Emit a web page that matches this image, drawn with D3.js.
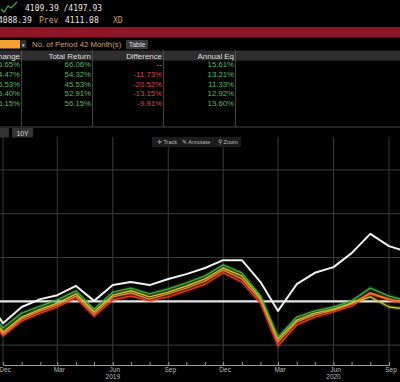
<!DOCTYPE html>
<html><head><meta charset="utf-8">
<script src="https://cdn.jsdelivr.net/npm/d3@7"></script>
<style>
body{margin:0;background:#000;}
svg{display:block;}
</style></head><body>
<svg id="chart" width="400" height="382"></svg>
<script>
// monthly points, index (white) and the four compared lines
const months = ["2018-11","2018-12","2019-01","2019-02","2019-03","2019-04","2019-05","2019-06",
  "2019-07","2019-08","2019-09","2019-10","2019-11","2019-12","2020-01","2020-02","2020-03",
  "2020-04","2020-05","2020-06","2020-07","2020-08","2020-09","2020-10"];
const indexVals  = [1.4,-5.0,-1.3,0.5,1.4,3.5,0.1,3.7,4.4,3.7,5.1,6.2,7.6,9.4,9.4,4.4,-2.2,3.9,6.5,7.8,11.0,15.4,12.6,11.3];
const greenVals  = [-0.6,-6.1,-2.7,-1.1,0.3,2.4,-1.8,2.1,3.0,1.7,2.8,4.2,5.8,8.3,6.5,1.2,-8.2,-3.6,-2.2,-1.3,0.1,3.0,1.2,0.1];
const yellowVals = [-1.3,-7.0,-3.6,-1.8,-0.4,1.7,-2.4,1.4,2.4,1.0,2.1,3.5,5.1,7.6,5.8,0.8,-8.6,-4.3,-2.7,-1.8,-0.4,1.0,-1.3,-1.8];
const orangeVals = [-1.8,-7.5,-4.0,-2.2,-0.8,1.2,-2.9,1.0,1.9,0.5,1.7,3.0,4.6,7.1,5.1,0.3,-9.3,-4.7,-3.1,-2.0,-0.6,1.9,0.5,-0.4];
const redVals    = [-2.2,-7.9,-4.5,-2.7,-1.3,0.8,-3.4,0.3,1.2,0.1,1.0,2.4,3.9,6.5,4.4,-0.4,-10.2,-5.4,-3.6,-2.4,-1.1,1.7,0.3,-0.6];

const quarterTicks = ["2018-12","2019-03","2019-06","2019-09","2019-12","2020-03","2020-06","2020-09"];
const yearLabels = [["2019-06","2019"],["2020-06","2020"]];
const gridVals = [-10, 0, 10, 20, 30];

const tableHeads = ["Change","Total Return","Difference","Annual Eq"];
const changeCol = ["65.65%","44.47%","45.53%","45.40%","56.15%"];
const totalCol  = ["66.06%","54.32%","45.53%","52.91%","56.15%"];
const diffCol   = ["--","-11.73%","-20.52%","-13.15%","-9.91%"];
const annualCol = ["15.61%","13.21%","11.33%","12.92%","13.60%"];

const parse = d3.timeParse("%Y-%m");
const svg = d3.select("#chart");
const sans = "Liberation Sans, Arial, sans-serif";
const mono = "DejaVu Sans Mono, monospace";

// ---- header ----
svg.append("path").attr("d","M1,9 L4,12 L8,6 L11,8 L17,2")
  .attr("fill","none").attr("stroke","#3fae49").attr("stroke-width",1.2);
svg.append("text").attr("x",25).attr("y",11).text("4109.39 /4197.93")
  .attr("fill","#e6e6e6").attr("font-family",mono).attr("font-size",8);
const row2 = [["4088.39",-2,"#e6e6e6"],["Prev",39,"#d2a46c"],["4111.08",65,"#e6e6e6"],["XD",113,"#d2a46c"]];
svg.selectAll(".r2").data(row2).join("text")
  .attr("x",d=>d[1]).attr("y",23).text(d=>d[0]).attr("fill",d=>d[2])
  .attr("font-family",mono).attr("font-size",8);

svg.append("rect").attr("x",0).attr("y",27).attr("width",400).attr("height",10.5).attr("fill","#8e1626");

svg.append("rect").attr("x",0).attr("y",40).attr("width",20).attr("height",8.5).attr("fill","#f4a233");
svg.append("rect").attr("x",20.5).attr("y",40).attr("width",6).attr("height",8.5).attr("fill","#333");
svg.append("text").attr("x",23.5).attr("y",46.5).attr("text-anchor","middle").text("▾")
  .attr("fill","#ddd").attr("font-family",sans).attr("font-size",5);
svg.append("text").attr("x",32).attr("y",47.3).text("No. of Period 42 Month(s)")
  .attr("fill","#d2a46c").attr("font-family",sans).attr("font-size",7.8);
svg.append("rect").attr("x",126).attr("y",40).attr("width",22).attr("height",9).attr("fill","#3a3a3a");
svg.append("text").attr("x",137).attr("y",47.3).attr("text-anchor","middle").text("Table")
  .attr("fill","#ddd").attr("font-family",sans).attr("font-size",7);

// ---- table ----
const colEnds = [20, 91, 162, 234];
svg.append("rect").attr("x",0).attr("y",50.5).attr("width",400).attr("height",10).attr("fill","#2e2e2e");
svg.selectAll(".th").data(tableHeads).join("text")
  .attr("x",(d,i)=>colEnds[i]).attr("y",58.7).attr("text-anchor","end").text(d=>d)
  .attr("fill","#dedede").attr("font-family",sans).attr("font-size",7.9);
svg.selectAll(".div").data(colEnds).join("line")
  .attr("x1",d=>d+1.5).attr("x2",d=>d+1.5).attr("y1",50.5).attr("y2",127)
  .attr("stroke","#555").attr("stroke-width",0.8);
const cols = [changeCol, totalCol, diffCol, annualCol];
cols.forEach((col, ci) => {
  svg.selectAll(".c"+ci).data(col).join("text")
    .attr("x",colEnds[ci]).attr("y",(d,i)=>67.2 + i*9.7).attr("text-anchor","end").text(d=>d)
    .attr("fill",d=> ci===2 ? (d==="--" ? "#aaa" : "#d84a4a") : "#58b862")
    .attr("font-family",sans).attr("font-size",7.8);
});
svg.append("line").attr("x1",0).attr("x2",400).attr("y1",127).attr("y2",127)
  .attr("stroke","#555").attr("stroke-width",0.8);
svg.append("rect").attr("x",0).attr("y",128).attr("width",9).attr("height",9.5).attr("fill","#333");
svg.append("rect").attr("x",12).attr("y",128).attr("width",21).attr("height",9.5).attr("fill","#333");
svg.append("text").attr("x",22.5).attr("y",135.5).attr("text-anchor","middle").text("10Y")
  .attr("fill","#ddd").attr("font-family",sans).attr("font-size",6.8);

// ---- chart ----
const x = d3.scaleTime().domain([parse("2018-12"), parse("2020-09")]).range([3, 389]);
const y = d3.scaleLinear().domain([-10, 30]).range([345.1, 169.9]);
const plotTop = 137, axisY = 365;

const grid = svg.append("g");
grid.selectAll(".hg").data(gridVals).join("line")
  .attr("x1",0).attr("x2",400).attr("y1",d=>y(d)).attr("y2",d=>y(d))
  .attr("stroke","#3a3a3a").attr("stroke-width",1);
grid.selectAll(".vg").data(quarterTicks).join("line")
  .attr("x1",d=>x(parse(d))).attr("x2",d=>x(parse(d))).attr("y1",plotTop).attr("y2",axisY)
  .attr("stroke","#3a3a3a").attr("stroke-width",1);

// toolbar
const tb = svg.append("g").attr("font-family",sans).attr("font-size",5.5).attr("fill","#bbb");
tb.append("rect").attr("x",152).attr("y",137).attr("width",89).attr("height",10).attr("fill","#1c1c1c");
tb.append("text").attr("x",157).attr("y",144.3).text("✛  Track");
tb.append("text").attr("x",182).attr("y",144.3).text("✎ Annotate");
tb.append("text").attr("x",218).attr("y",144.3).text("⚲ Zoom");

// reference line
svg.append("line").attr("x1",0).attr("x2",400).attr("y1",y(0)).attr("y2",y(0))
  .attr("stroke","#e6e6e6").attr("stroke-width",2.2);

const line = d3.line().x((d,i)=>x(parse(months[i]))).y(d=>y(d));
const series = [
  {vals: redVals, color: "#e23a2a"},
  {vals: orangeVals, color: "#e8842e"},
  {vals: yellowVals, color: "#c9c23a"},
  {vals: greenVals, color: "#45a845"}
];
series.forEach(s => {
  svg.append("path").attr("d", line(s.vals)).attr("fill","none")
    .attr("stroke", s.color).attr("stroke-opacity",0.22).attr("stroke-width",4).attr("stroke-linejoin","round");
});
series.forEach(s => {
  svg.append("path").attr("d", line(s.vals)).attr("fill","none")
    .attr("stroke", s.color).attr("stroke-width",1.4).attr("stroke-linejoin","round");
});
svg.append("path").attr("d", line(indexVals)).attr("fill","none")
  .attr("stroke","#f2f2f2").attr("stroke-width",2).attr("stroke-linejoin","round");

// x axis
const axG = svg.append("g").attr("transform",`translate(0,${axisY})`);
axG.call(d3.axisBottom(x).tickValues(months.map(parse)).tickSize(-3).tickFormat(""));
axG.select(".domain").attr("stroke","#999");
axG.selectAll(".tick line").attr("stroke","#999");
svg.selectAll(".ql").data(quarterTicks).join("text")
  .attr("x",d=>x(parse(d))+2).attr("y",372).attr("text-anchor","middle")
  .text(d=>d3.timeFormat("%b")(parse(d)))
  .attr("fill","#bbb").attr("font-family",sans).attr("font-size",6.5);
svg.selectAll(".yl").data(yearLabels).join("text")
  .attr("x",d=>x(parse(d[0]))).attr("y",379).attr("text-anchor","middle").text(d=>d[1])
  .attr("fill","#bbb").attr("font-family",sans).attr("font-size",6.5);
</script>
</body></html>
